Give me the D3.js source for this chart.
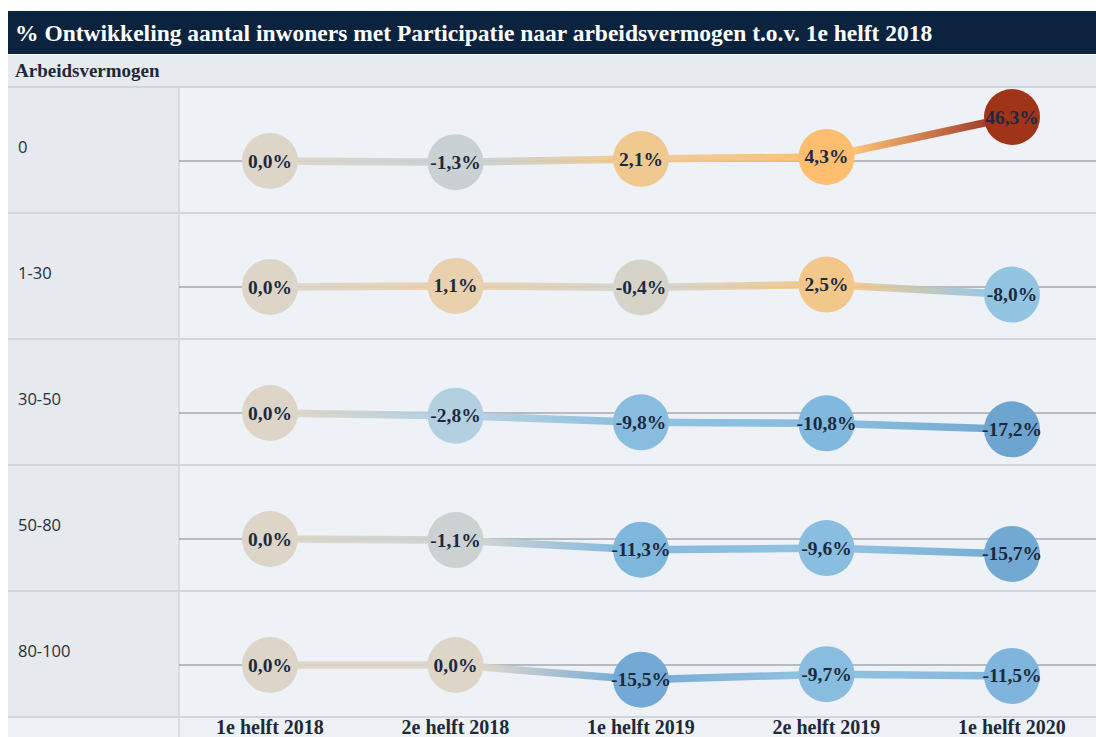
<!DOCTYPE html>
<meta charset="utf-8">
<head>
  <style>
    body { margin:0; background:#fff; }
    svg { display:block; }
  </style>
  <script src="https://d3js.org/d3.v7.min.js"></script>
</head>
<body>
<svg width="1096" height="737"></svg>
<script>
  var title = "% Ontwikkeling aantal inwoners met Participatie naar arbeidsvermogen t.o.v. 1e helft 2018"
  var rowHeader = "Arbeidsvermogen"
  var periods = ["1e helft 2018", "2e helft 2018", "1e helft 2019", "2e helft 2019", "1e helft 2020"]
  var groups = ["0", "1-30", "30-50", "50-80", "80-100"]
  var v0     = [0.0, -1.3,   2.1,   4.3,  46.3]
  var v1_30  = [0.0,  1.1,  -0.4,   2.5,  -8.0]
  var v30_50 = [0.0, -2.8,  -9.8, -10.8, -17.2]
  var v50_80 = [0.0, -1.1, -11.3,  -9.6, -15.7]
  var v80_100= [0.0,  0.0, -15.5,  -9.7, -11.5]
  var values = [v0, v1_30, v30_50, v50_80, v80_100]

  var W = 1096, H = 737
  var left = 8, splitX = 179
  var rowTop = 87, rowH = 126, zeroOff = 74
  var serif = "'Liberation Serif', 'DejaVu Serif', serif"

  var svg = d3.select("svg")

  // backgrounds
  svg.append("rect").attr("x", 0).attr("y", 0).attr("width", W).attr("height", H).attr("fill", "#ffffff")
  svg.append("rect").attr("x", left).attr("y", 55).attr("width", W - left).attr("height", H - 55).attr("fill", "#eef1f5")
  svg.append("rect").attr("x", left).attr("y", 55).attr("width", W - left).attr("height", 31).attr("fill", "#e7eaee")
  svg.append("rect").attr("x", left).attr("y", rowTop).attr("width", splitX - left).attr("height", rowH * 5).attr("fill", "#e6e9ed")

  // title bar
  svg.append("rect").attr("x", left).attr("y", 11).attr("width", W - left).attr("height", 43).attr("fill", "#0c2340")
  svg.append("text").attr("x", 15).attr("y", 41)
    .attr("fill", "#ffffff").attr("font-family", serif).attr("font-weight", "bold").attr("font-size", 23.5)
    .text(title)

  svg.append("text").attr("x", 15).attr("y", 77)
    .attr("fill", "#1e2a3a").attr("font-family", serif).attr("font-weight", "bold").attr("font-size", 19)
    .text(rowHeader)

  var x = d3.scalePoint().domain(periods).range([270, 1012])
  var yRow = d3.scaleBand().domain(groups).range([rowTop, rowTop + rowH * groups.length])
  var y = d3.scaleLinear().domain([0, 46.3]).range([0, -44])

  var color = d3.scaleLinear()
    .domain([-17.2, -11, -8, -2.8, -1.3, -0.4, 0, 1.1, 2.1, 4.3, 25, 46.3])
    .range(["#6ea4d0", "#80b7dd", "#93c5e3", "#b4cfdf", "#c9d1d3", "#d6d4c9", "#dcd5c8", "#e9d0ae", "#f0c990", "#fdbf6f", "#d57a45", "#9f3419"])
    .interpolate(d3.interpolateRgb)

  // row separators
  svg.append("g").selectAll("line").data(groups.concat(["end"])).join("line")
    .attr("x1", left).attr("x2", W)
    .attr("y1", function (d, i) { return rowTop + i * rowH }).attr("y2", function (d, i) { return rowTop + i * rowH })
    .attr("stroke", "#d3d7dc").attr("stroke-width", 2)
  svg.append("line").attr("x1", splitX).attr("x2", splitX).attr("y1", rowTop).attr("y2", H)
    .attr("stroke", "#d3d7dc").attr("stroke-width", 1.5)

  // row labels
  svg.append("g").selectAll("text").data(groups).join("text")
    .attr("x", 18).attr("y", function (d) { return yRow(d) + 66 })
    .attr("fill", "#27303c").attr("font-family", "'Open Sans', sans-serif").attr("font-size", 16.5)
    .text(function (d) { return d })

  // zero lines
  svg.append("g").selectAll("line").data(groups).join("line")
    .attr("x1", splitX).attr("x2", W)
    .attr("y1", function (d) { return yRow(d) + zeroOff }).attr("y2", function (d) { return yRow(d) + zeroOff })
    .attr("stroke", "#80868d").attr("stroke-width", 1.2)

  var defs = svg.append("defs")
  var fmt = function (v) { return v.toFixed(1).replace(".", ",") + "%" }

  groups.forEach(function (g, gi) {
    var base = yRow(g) + zeroOff
    var pts = values[gi].map(function (v, i) { return { v: v, x: x(periods[i]), y: base + y(v) } })
    var grp = svg.append("g")

    // gradient segments
    d3.pairs(pts).forEach(function (p, si) {
      var id = "grad" + gi + "_" + si
      var gr = defs.append("linearGradient").attr("id", id)
        .attr("gradientUnits", "userSpaceOnUse")
        .attr("x1", p[0].x + 28).attr("x2", p[1].x - 28).attr("y1", 0).attr("y2", 0)
      gr.append("stop").attr("offset", "0%").attr("stop-color", color(p[0].v))
      gr.append("stop").attr("offset", "100%").attr("stop-color", color(p[1].v))
      grp.append("line")
        .attr("x1", p[0].x).attr("y1", p[0].y).attr("x2", p[1].x).attr("y2", p[1].y)
        .attr("stroke", "url(#" + id + ")").attr("stroke-width", 7.5).attr("opacity", 0.92)
    })

    grp.selectAll("circle").data(pts).join("circle")
      .attr("cx", function (d) { return d.x }).attr("cy", function (d) { return d.y })
      .attr("r", 28).attr("fill", function (d) { return color(d.v) })

    grp.selectAll("text").data(pts).join("text")
      .attr("x", function (d) { return d.x }).attr("y", function (d) { return d.y + 6.5 })
      .attr("text-anchor", "middle")
      .attr("fill", "#1b2a40").attr("font-family", serif).attr("font-weight", "bold").attr("font-size", 19.5)
      .text(function (d) { return fmt(d.v) })
  })

  // x axis labels
  svg.append("g").selectAll("text").data(periods).join("text")
    .attr("x", function (d) { return x(d) }).attr("y", 734)
    .attr("text-anchor", "middle")
    .attr("fill", "#1e2a3a").attr("font-family", serif).attr("font-weight", "bold").attr("font-size", 20)
    .text(function (d) { return d })
</script>
</body>
